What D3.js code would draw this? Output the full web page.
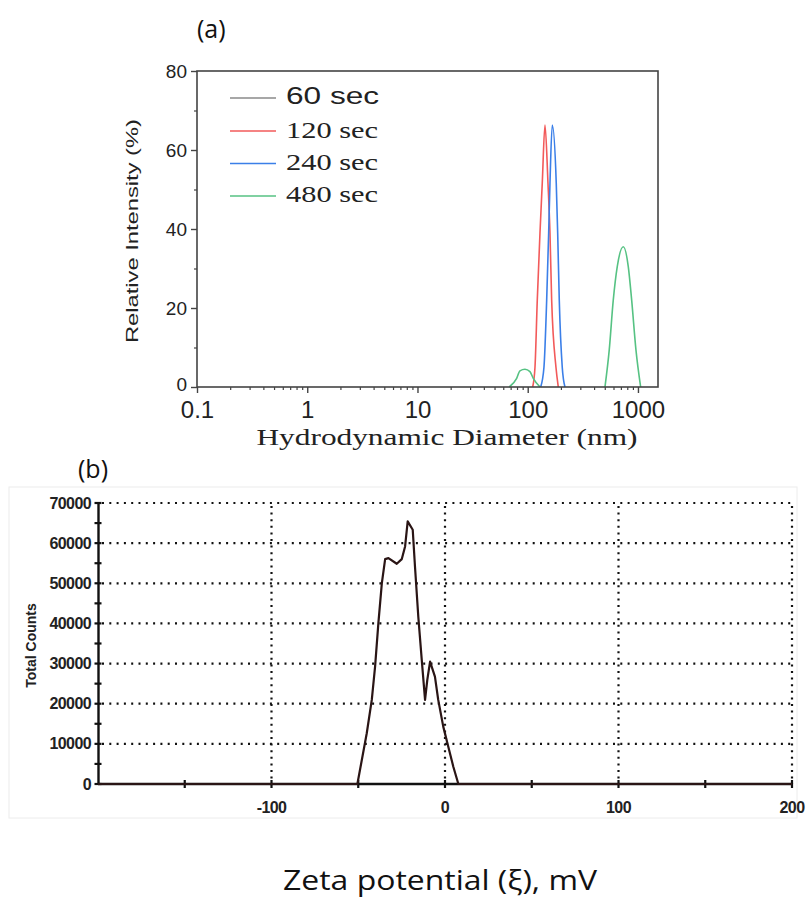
<!DOCTYPE html>
<html>
<head>
<meta charset="utf-8">
<script src="https://cdn.jsdelivr.net/npm/d3@7"></script>
<style>
  html, body { margin: 0; padding: 0; background: #fff; }
  svg { display: block; }
</style>
</head>
<body>
<svg id="chart" width="809" height="903"></svg>
<script>
// ---------- Panel (a) data: DLS size distribution ----------
const seriesNames = ["60 sec", "120 sec", "240 sec", "480 sec"];
const sizeTicks = [0.1, 1, 10, 100, 1000];
const sizeTickLabels = ["0.1", "1", "10", "100", "1000"];
const intensityTicks = [0, 20, 40, 60, 80];

// [diameter nm, relative intensity %]; null = gap between separate peaks
const s60 = [];  // not visible in the figure (hidden)
const s120 = [[110.9,0],[116.4,5],[122.1,22],[129.2,39],[135.5,51.6],[143.4,66.3],[152.7,51.6],[159.2,39],[164.9,22],[180.4,5],[189.3,0]];
const s240 = [[131.1,0],[140.4,5],[148.6,22],[154.9,39],[159.2,51.6],[167.0,66.3],[181.5,51.6],[187.0,39],[193.3,22],[205.7,5],[217.7,0]];
const s480 = [[68.0,0],[79.4,2.2],[85.0,4.1],[94.4,4.5],[104.8,3.9],[112.3,2.2],[129.2,0], null,
              [502,0],[549,9.4],[597,22.0],[649,30.5],[735.8,35.5],[817,30.5],[877,22.0],[959,9.4],[1058,0]];

// ---------- Panel (b) data: zeta potential ----------
const zetaTicks = [-100, 0, 100, 200];
const zetaMinorTicks = [-150, -100, -50, 0, 50, 100, 150, 200];
const countTicks = [0, 10000, 20000, 30000, 40000, 50000, 60000, 70000];
// [mV, total counts]
const zeta = [[-200,0],[-50.5,0],[-45.1,12640],[-42.2,20950],[-40.3,29250],[-38.4,40070],[-36.4,50050],[-34.5,56030],
  [-32.6,56280],[-27.8,54860],[-24.9,56030],[-23.0,59180],[-21.5,65420],[-18.6,63340],[-17.3,54190],
  [-15.4,41720],[-13.4,30920],[-11.5,20950],[-10.2,25940],[-8.6,30500],[-5.8,26760],[-3.9,20950],
  [-1.0,14290],[1.9,9300],[4.8,4310],[7.7,0],[200,0]];

const colors = ["#8a8a8a", "#f25a5a", "#3b7fe8", "#56c283"];

const svg = d3.select("#chart");
svg.append("rect").attr("width", 809).attr("height", 903).attr("fill", "#fff");

// ================= Panel (a) =================
const xA = d3.scaleLog().domain([0.1, 1520]).range([197, 658]);
const yA = d3.scaleLinear().domain([0, 80]).range([387, 71]);
const gA = svg.append("g");
const axisCol = "#444";

// curves (drawn first, frame on top)
const lineA = d3.line().defined(d => d !== null).x(d => xA(d[0])).y(d => yA(d[1])).curve(d3.curveMonotoneX);
const allSeries = [s60, s120, s240, s480];
allSeries.forEach((s, i) => {
  if (!s.length) return;
  gA.append("path").datum(s).attr("d", lineA)
    .attr("fill", "none").attr("stroke", colors[i]).attr("stroke-width", 1.6);
});

// frame
gA.append("rect")
  .attr("x", xA.range()[0]).attr("y", yA.range()[1])
  .attr("width", xA.range()[1] - xA.range()[0])
  .attr("height", yA.range()[0] - yA.range()[1])
  .attr("fill", "none").attr("stroke", axisCol).attr("stroke-width", 1.6);

// y axis
const yAxA = gA.append("g").attr("transform", `translate(${xA.range()[0]},0)`)
  .call(d3.axisLeft(yA).tickValues(intensityTicks).tickSize(6).tickPadding(4).tickFormat(d3.format("d")));
yAxA.select(".domain").remove();
yAxA.selectAll("line").attr("stroke", axisCol).attr("stroke-width", 1.4);
yAxA.selectAll("text").attr("font-family", "Liberation Sans, Arial, sans-serif").attr("font-size", 19).attr("fill", "#222");
yAxA.selectAll("text").filter(d => d === 0).attr("dy", "0.2em");
const yMinorA = gA.append("g").attr("transform", `translate(${xA.range()[0]},0)`)
  .call(d3.axisLeft(yA).tickValues([10, 30, 50, 70]).tickSize(3).tickFormat(""));
yMinorA.select(".domain").remove();
yMinorA.selectAll("line").attr("stroke", axisCol).attr("stroke-width", 1.2);

// x axis
const xAxA = gA.append("g").attr("transform", `translate(0,${yA.range()[0]})`)
  .call(d3.axisBottom(xA).tickValues(sizeTicks).tickSize(6).tickPadding(8).tickFormat((d, i) => sizeTickLabels[i]));
xAxA.select(".domain").remove();
xAxA.selectAll("line").attr("stroke", axisCol).attr("stroke-width", 1.4);
xAxA.selectAll("text").attr("font-family", "Liberation Sans, Arial, sans-serif").attr("font-size", 24).attr("fill", "#222");
const minorSizes = [];
[0.1, 1, 10, 100].forEach(b => { for (let k = 2; k <= 9; k++) minorSizes.push(+(b * k).toPrecision(3)); });
const xMinorA = gA.append("g").attr("transform", `translate(0,${yA.range()[0]})`)
  .call(d3.axisBottom(xA).tickValues(minorSizes).tickSize(3).tickFormat(""));
xMinorA.select(".domain").remove();
xMinorA.selectAll("line").attr("stroke", axisCol).attr("stroke-width", 1.2);

// axis titles
gA.append("text")
  .attr("transform", `translate(138,${(yA.range()[0] + yA.range()[1]) / 2 + 2}) rotate(-90)`)
  .attr("text-anchor", "middle")
  .attr("font-family", "Liberation Sans, Arial, sans-serif").attr("font-size", 17)
  .attr("textLength", 224).attr("lengthAdjust", "spacingAndGlyphs")
  .attr("fill", "#222").text("Relative Intensity (%)");
gA.append("text")
  .attr("x", 447).attr("y", 445).attr("text-anchor", "middle")
  .attr("font-family", "Liberation Serif, Times New Roman, serif").attr("font-size", 23)
  .attr("textLength", 381).attr("lengthAdjust", "spacingAndGlyphs")
  .attr("fill", "#222").text("Hydrodynamic Diameter (nm)");

// legend
const legY = [98, 131, 163.5, 196];
const legBase = [104, 138, 170, 202];
seriesNames.forEach((n, i) => {
  gA.append("line").attr("x1", 230).attr("x2", 276).attr("y1", legY[i]).attr("y2", legY[i])
    .attr("stroke", colors[i]).attr("stroke-width", 1.6);
  gA.append("text").attr("x", 286).attr("y", legBase[i])
    .attr("font-family", i === 0 ? "Liberation Sans, Arial, sans-serif" : "Liberation Serif, Times New Roman, serif")
    .attr("font-size", i === 0 ? 24 : 23)
    .attr("textLength", i === 0 ? 93 : 92).attr("lengthAdjust", "spacingAndGlyphs")
    .attr("fill", "#222").text(n);
});

svg.append("text").attr("x", 197).attr("y", 38)
  .attr("font-family", "Open Sans, Noto Sans, sans-serif").attr("font-size", 25).attr("fill", "#111").text("(a)");

// ================= Panel (b) =================
const xB = d3.scaleLinear().domain([-200, 200]).range([98, 792]);
const yB = d3.scaleLinear().domain([0, 70000]).range([784, 503]);
const gB = svg.append("g");

// faint image border
gB.append("rect").attr("x", 9).attr("y", 487).attr("width", 788).attr("height", 331)
  .attr("fill", "none").attr("stroke", "#ececec").attr("stroke-width", 1);

// dotted grid
const dotted = "2,5.3";
gB.selectAll(".hgrid").data(countTicks.filter(d => d > 0)).join("line")
  .attr("x1", xB(-200) + 4).attr("x2", xB(200)).attr("y1", d => yB(d)).attr("y2", d => yB(d))
  .attr("stroke", "#111").attr("stroke-width", 2.2).attr("stroke-dasharray", dotted);
gB.selectAll(".vgrid").data(zetaTicks).join("line")
  .attr("x1", d => xB(d)).attr("x2", d => xB(d)).attr("y1", yB(70000) + 3).attr("y2", yB(0))
  .attr("stroke", "#111").attr("stroke-width", 2.2).attr("stroke-dasharray", "2,4.6");

// axes
const yAxB = gB.append("g").attr("transform", `translate(${xB(-200)},0)`)
  .call(d3.axisLeft(yB).tickValues(countTicks).tickSize(0).tickPadding(7).tickFormat(d3.format("d")));
yAxB.select(".domain").attr("stroke", "#111").attr("stroke-width", 2.4);
yAxB.selectAll("text").attr("font-family", "Liberation Sans, Arial, sans-serif").attr("font-weight", "bold")
  .attr("font-size", 16).attr("letter-spacing", -0.6).attr("fill", "#222");
const minorCounts = d3.range(0, 70001, 5000);
gB.selectAll(".ytick").data(minorCounts).join("line")
  .attr("x1", xB(-200) - 3.5).attr("x2", xB(-200) + 3.5).attr("y1", d => yB(d)).attr("y2", d => yB(d))
  .attr("stroke", "#111").attr("stroke-width", 2.2);

gB.append("line").attr("x1", xB(-200)).attr("x2", xB(200)).attr("y1", yB(0)).attr("y2", yB(0))
  .attr("stroke", "#111").attr("stroke-width", 2.4);
gB.selectAll(".xtick").data(zetaMinorTicks).join("line")
  .attr("x1", d => xB(d)).attr("x2", d => xB(d)).attr("y1", yB(0) - 4).attr("y2", yB(0) + 4)
  .attr("stroke", "#111").attr("stroke-width", 2.2);
gB.selectAll(".xlab").data(zetaTicks).join("text")
  .attr("x", d => xB(d)).attr("y", 813).attr("text-anchor", "middle")
  .attr("font-family", "Liberation Sans, Arial, sans-serif").attr("font-weight", "bold")
  .attr("font-size", 16).attr("letter-spacing", -0.6).attr("fill", "#222")
  .text(d => d);

gB.append("text")
  .attr("transform", `translate(36,${(yB(0) + yB(70000)) / 2 + 2}) rotate(-90)`)
  .attr("text-anchor", "middle")
  .attr("font-family", "Liberation Sans, Arial, sans-serif").attr("font-weight", "bold").attr("font-size", 14)
  .attr("fill", "#222").text("Total Counts");

// zeta curve
const lineB = d3.line().x(d => xB(d[0])).y(d => yB(d[1])).curve(d3.curveLinear);
gB.append("path").datum(zeta).attr("d", lineB)
  .attr("fill", "none").attr("stroke", "#2a1515").attr("stroke-width", 2.2).attr("stroke-linejoin", "round");

svg.append("text").attr("x", 78).attr("y", 478)
  .attr("font-family", "Open Sans, Noto Sans, sans-serif").attr("font-size", 25).attr("fill", "#111").text("(b)");

svg.append("text").attr("x", 440).attr("y", 890).attr("text-anchor", "middle")
  .attr("font-family", "Open Sans, Noto Sans, sans-serif").attr("font-size", 27)
  .attr("textLength", 314).attr("lengthAdjust", "spacingAndGlyphs")
  .attr("fill", "#111").text("Zeta potential (ξ), mV");
</script>
</body>
</html>
